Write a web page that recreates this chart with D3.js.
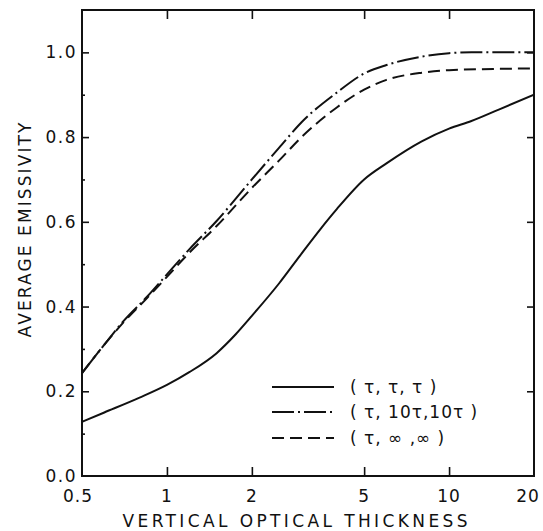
<!DOCTYPE html>
<html>
<head>
<meta charset="utf-8">
<script src="https://cdn.jsdelivr.net/npm/d3@7"></script>
<style>
  body { margin: 0; background: #fff; }
  text { font-family: "DejaVu Sans", sans-serif; fill: #111; }
</style>
</head>
<body>
<svg id="chart" width="543" height="531"></svg>
<script>
// data
const xTicks = [0.5, 1, 2, 5, 10, 20];
const xTickLabels = ['0.5', '1', '2', '5', '10', '20'];
const yTicks = [0, 0.2, 0.4, 0.6, 0.8, 1.0];
const yMinorTicks = [0.1, 0.3, 0.5, 0.7, 0.9];

const xSolid = [0.5, 0.6, 0.8, 1, 1.2, 1.5, 1.75, 2, 2.5, 3, 3.5, 4, 5, 6, 8, 10, 12, 15, 20];
const ySolid = [0.128, 0.15, 0.185, 0.215, 0.245, 0.29, 0.334, 0.378, 0.455, 0.525, 0.583, 0.63, 0.7, 0.738, 0.79, 0.82, 0.838, 0.865, 0.90];

const xTen = [0.5, 0.6, 0.7, 0.85, 1, 1.2, 1.5, 2, 2.5, 3, 4, 5, 6, 8, 10, 12, 15, 20];
const yTen = [0.243, 0.31, 0.365, 0.423, 0.476, 0.535, 0.602, 0.70, 0.775, 0.835, 0.905, 0.95, 0.97, 0.99, 0.998, 1.0, 1.0, 1.0];

const xInf = [0.5, 0.6, 0.7, 0.85, 1, 1.2, 1.5, 2, 2.5, 3, 4, 5, 6, 8, 10, 15, 20];
const yInf = [0.243, 0.31, 0.362, 0.42, 0.47, 0.527, 0.59, 0.68, 0.745, 0.80, 0.87, 0.912, 0.935, 0.952, 0.958, 0.961, 0.962];

const seriesNames = ['( \u03C4, \u03C4, \u03C4 )', '( \u03C4, 10\u03C4,10\u03C4 )', '( \u03C4, \u221E ,\u221E )'];
const seriesDash = ['none', '22,4,2,4', '12,6'];

const svg = d3.select('#chart');
const margin = { top: 10, right: 9, bottom: 55, left: 82 };
const width = 543 - margin.left - margin.right,
      height = 531 - margin.top - margin.bottom;

const x = d3.scaleLog().domain([0.5, 20]).range([0, width]);
const y = d3.scaleLinear().domain([0, 1.1]).range([height, 0]);

const g = svg.append('g').attr('transform', 'translate(' + margin.left + ',' + margin.top + ')');

g.append('clipPath').attr('id', 'clip')
  .append('rect').attr('width', width).attr('height', height);

// frame
g.append('rect')
  .attr('width', width).attr('height', height)
  .attr('fill', 'none').attr('stroke', '#111').attr('stroke-width', 2);

// ticks: all inward
g.append('g')
  .call(d3.axisBottom(x).tickValues(xTicks.slice(1, -1)).tickSize(9).tickFormat(''))
  .call(s => s.select('.domain').remove());
g.append('g')
  .attr('transform', 'translate(0,' + height + ')')
  .call(d3.axisTop(x).tickValues(xTicks.slice(1, -1)).tickSize(9).tickFormat(''))
  .call(s => s.select('.domain').remove());
g.append('g')
  .call(d3.axisRight(y).tickValues(yTicks.slice(1)).tickSize(7).tickFormat(''))
  .call(s => s.select('.domain').remove());
g.append('g')
  .attr('transform', 'translate(' + width + ',0)')
  .call(d3.axisLeft(y).tickValues(yTicks.slice(1)).tickSize(7).tickFormat(''))
  .call(s => s.select('.domain').remove());
g.append('g')
  .call(d3.axisRight(y).tickValues(yMinorTicks).tickSize(3).tickFormat(''))
  .call(s => s.select('.domain').remove());
g.selectAll('.tick line').attr('stroke', '#111').attr('stroke-width', 1.6);

// tick labels
g.selectAll('.ylab')
  .data(yTicks)
  .enter().append('text')
  .attr('class', 'ylab')
  .attr('x', -5)
  .attr('y', d => y(d))
  .attr('dy', '0.36em')
  .attr('text-anchor', 'end')
  .attr('font-size', 17)
  .attr('letter-spacing', 1.5)
  .text(d => d.toFixed(1));

const xShift = [-4, 0, 0, 0, 0, -6];
g.selectAll('.xlab')
  .data(xTicks)
  .enter().append('text')
  .attr('class', 'xlab')
  .attr('x', (d, i) => x(d) + xShift[i])
  .attr('y', height + 26)
  .attr('text-anchor', 'middle')
  .attr('font-size', 17)
  .attr('letter-spacing', 1)
  .text((d, i) => xTickLabels[i]);

// axis titles
svg.append('text')
  .attr('x', 295).attr('y', 527)
  .attr('text-anchor', 'middle')
  .attr('font-size', 17)
  .attr('textLength', 345).attr('lengthAdjust', 'spacing')
  .text('VERTICAL OPTICAL THICKNESS');

svg.append('text')
  .attr('transform', 'translate(31,230) rotate(-90)')
  .attr('text-anchor', 'middle')
  .attr('font-size', 17)
  .attr('textLength', 215).attr('lengthAdjust', 'spacing')
  .text('AVERAGE EMISSIVITY');

// curves
const line = d3.line()
  .x(d => x(d[0]))
  .y(d => y(d[1]))
  .curve(d3.curveMonotoneX);

const series = [
  d3.zip(xSolid, ySolid),
  d3.zip(xTen, yTen),
  d3.zip(xInf, yInf)
];

g.selectAll('.curve')
  .data(series)
  .enter().append('path')
  .attr('class', 'curve')
  .attr('clip-path', 'url(#clip)')
  .attr('d', line)
  .attr('fill', 'none')
  .attr('stroke', '#111')
  .attr('stroke-width', 2)
  .attr('stroke-dasharray', (d, i) => seriesDash[i]);

// legend
const legendRows = [387, 412, 438];
const lg = svg.append('g');
legendRows.forEach((ly, i) => {
  lg.append('line')
    .attr('x1', 272).attr('x2', 334)
    .attr('y1', ly).attr('y2', ly)
    .attr('stroke', '#111').attr('stroke-width', 2)
    .attr('stroke-dasharray', seriesDash[i]);
  lg.append('text')
    .attr('x', 350).attr('y', ly)
    .attr('dy', '0.36em')
    .attr('font-size', 17)
    .attr('letter-spacing', 1)
    .text(seriesNames[i]);
});
</script>
</body>
</html>
